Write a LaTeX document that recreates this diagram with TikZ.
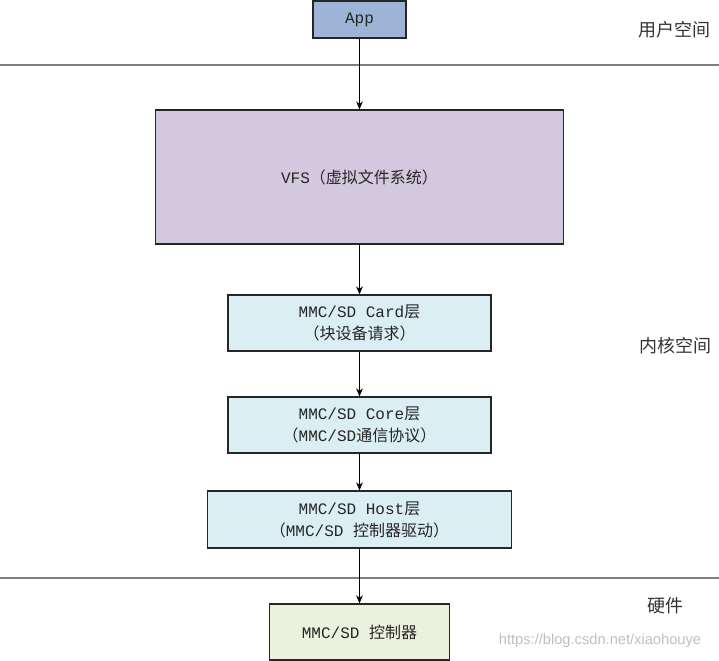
\documentclass[tikz,border=0pt]{standalone}
\usepackage{fontspec}
\setmainfont{Liberation Mono}
\newfontfamily\cjk{Noto Sans CJK SC}
\newfontfamily\wm{Liberation Sans}
\usetikzlibrary{arrows.meta}
\definecolor{appfill}{HTML}{9DB4D6}
\definecolor{vfsfill}{HTML}{D3C9DF}
\definecolor{layfill}{HTML}{DAEEF3}
\definecolor{hwfill}{HTML}{EBF1DE}
\definecolor{sepline}{HTML}{808080}
\tikzset{
  box/.style={draw=black!85, line width=0.9pt, inner sep=0pt, align=center, text=black!85,
    font=\fontsize{12}{16.5}\selectfont},
  arr/.style={draw=black, line width=0.75pt, -{Stealth[length=6pt,width=5pt]}},
  sep/.style={draw=sepline, line width=1.5pt},
  side/.style={font=\cjk\fontsize{13.5}{15}\selectfont, text=black!80, inner sep=0pt},
}
\begin{document}
\begin{tikzpicture}[x=0.75pt,y=-0.75pt]
\useasboundingbox (0,0) rectangle (719,661);
\coordinate (l1a) at (0,65);
\coordinate (l1b) at (719,65);
\coordinate (l2a) at (0,578);
\coordinate (l2b) at (719,578);
\draw[sep] (l1a) -- (l1b);
\draw[sep] (l2a) -- (l2b);

\node[box, fill=appfill, minimum width=93*0.75pt, minimum height=37*0.75pt] (app) at (359.5,19.5) {App};
\node[box, fill=vfsfill, minimum width=408*0.75pt, minimum height=134*0.75pt] (vfs) at (359.5,177) {VFS{\cjk （虚拟文件系统）}};
\node[box, fill=layfill, minimum width=263*0.75pt, minimum height=56*0.75pt] (card) at (359.5,323) {MMC/SD Card{\cjk 层}\\{\cjk （块设备请求）}};
\node[box, fill=layfill, minimum width=263*0.75pt, minimum height=56*0.75pt] (core) at (359.5,425) {MMC/SD Core{\cjk 层}\\{\cjk （}MMC/SD{\cjk 通信协议）}};
\node[box, fill=layfill, minimum width=304*0.75pt, minimum height=57*0.75pt] (host) at (359.5,519.5) {MMC/SD Host{\cjk 层}\\{\cjk （}MMC/SD {\cjk 控制器驱动）}};
\node[box, fill=hwfill, minimum width=180*0.75pt, minimum height=56*0.75pt] (ctrl) at (359.5,632) {MMC/SD {\cjk 控制器}};

\draw[arr] (app.south) -- (app.south |- vfs.north);
\draw[arr] (vfs.south) -- (vfs.south |- card.north);
\draw[arr] (card.south) -- (card.south |- core.north);
\draw[arr] (core.south) -- (core.south |- host.north);
\draw[arr] (host.south) -- (host.south |- ctrl.north);

\node[side] (us) at (674.5,30) {用户空间};
\node[side] (ks) at (675,346) {内核空间};
\node[side] (hw) at (665,606) {硬件};
\node[font=\wm\fontsize{11}{13}\selectfont, text=black!25, inner sep=0pt] (mark) at (600,641) {https://blog.csdn.net/xiaohouye};
\end{tikzpicture}
\end{document}
